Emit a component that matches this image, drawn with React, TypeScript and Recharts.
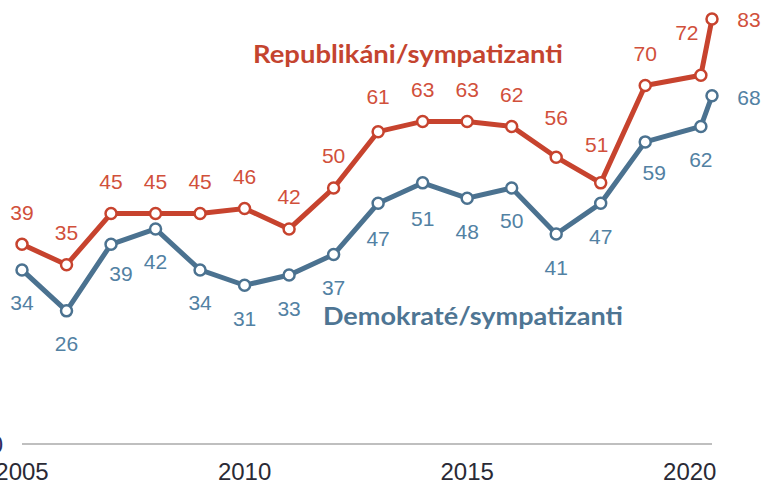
import { LineChart, Line, XAxis, YAxis, Customized } from "recharts";

const years = [2005, 2006, 2007, 2008, 2009, 2010, 2011, 2012, 2013, 2014, 2015, 2016, 2017, 2018, 2019, 2020.25, 2020.5];
const repValues = [39, 35, 45, 45, 45, 46, 42, 50, 61, 63, 63, 62, 56, 51, 70, 72, 83];
const demValues = [34, 26, 39, 42, 34, 31, 33, 37, 47, 51, 48, 50, 41, 47, 59, 62, 68];
const yearTicks = [2005, 2010, 2015, 2020];

const REP_LINE = "#c7432e";
const REP_TEXT = "#d1503b";
const DEM_LINE = "#4b7290";
const DEM_TEXT = "#5281a3";
const NUM_FONT = "'Liberation Sans', Arial, sans-serif";

// label nudges per point index (everything else sits straight above / below)
const repNudge: Record<number, { dx?: number; dy?: number }> = {
  8: { dy: -35 },
  12: { dy: -40 },
  13: { dx: -4, dy: -38 },
  15: { dx: -14, dy: -43 },
  16: { dx: 37, dy: 0 },
};
const demNudge: Record<number, { dx?: number; dy?: number }> = {
  2: { dx: 10, dy: 29 },
  8: { dy: 35 },
  9: { dy: 36 },
  14: { dx: 9, dy: 31 },
  16: { dx: 37, dy: 2 },
};

const data = years.map((year, i) => ({ year, rep: repValues[i], dem: demValues[i] }));

function makeLabel(color: string, baseDy: number, nudge: Record<number, { dx?: number; dy?: number }>) {
  return (props: any) => {
    const { x, y, value, index } = props;
    const n = nudge[index] ?? {};
    return (
      <text
        key={`lbl-${color}-${index}`}
        x={x + (n.dx ?? 0)}
        y={y + (n.dy ?? baseDy)}
        fill={color}
        fontSize={21}
        fontFamily={NUM_FONT}
        textAnchor="middle"
        dominantBaseline="central"
      >
        {value}
      </text>
    );
  };
}

function SeriesNames() {
  return (
    <g fontFamily="Lato, 'Open Sans', sans-serif" fontWeight="bold" fontSize={25}>
      <text x={253} y={63} fill="#c4442f" textLength={310} lengthAdjust="spacingAndGlyphs">
        Republikáni/sympatizanti
      </text>
      <text x={323} y={325} fill="#4e7593" textLength={300} lengthAdjust="spacingAndGlyphs">
        Demokraté/sympatizanti
      </text>
    </g>
  );
}

export default function App() {
  return (
    <div style={{ position: "absolute", left: 0, top: 0, width: 762, height: 485, background: "#fff" }}>
      <LineChart width={762} height={485} data={data} margin={{ top: 19, right: 50, bottom: 11, left: 0 }}>
        <XAxis
          dataKey="year"
          type="number"
          domain={[2005, 2020.5]}
          ticks={yearTicks}
          interval={0}
          tickLine={false}
          tickSize={0}
          tickMargin={19}
          height={30}
          axisLine={{ stroke: "#aaaaaa", strokeWidth: 1.5 }}
          tick={{ fill: "#2a2a35", fontSize: 24, fontFamily: NUM_FONT }}
        />
        <YAxis
          domain={[0, 83]}
          ticks={[0]}
          width={22}
          axisLine={false}
          tickLine={false}
          tickSize={0}
          tickMargin={19}
          tick={{ fill: "#2e2e60", fontSize: 24, fontFamily: NUM_FONT }}
        />
        <Line
          type="linear"
          dataKey="rep"
          stroke={REP_LINE}
          strokeWidth={5}
          dot={{ r: 5.5, fill: "#fff", stroke: REP_LINE, strokeWidth: 2.5 }}
          activeDot={false}
          isAnimationActive={false}
          label={makeLabel(REP_TEXT, -32, repNudge)}
        />
        <Line
          type="linear"
          dataKey="dem"
          stroke={DEM_LINE}
          strokeWidth={5}
          dot={{ r: 5.5, fill: "#fff", stroke: DEM_LINE, strokeWidth: 2.5 }}
          activeDot={false}
          isAnimationActive={false}
          label={makeLabel(DEM_TEXT, 33, demNudge)}
        />
        <Customized component={SeriesNames} />
      </LineChart>
    </div>
  );
}
